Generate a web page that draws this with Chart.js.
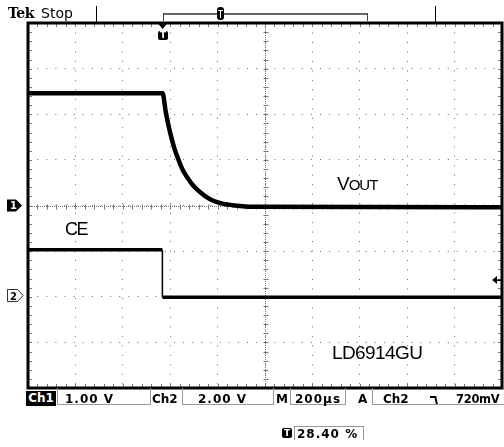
<!DOCTYPE html>
<html>
<head>
<meta charset="utf-8">
<title>LD6914GU turn-off</title>
<script src="https://cdn.jsdelivr.net/npm/chart.js@4.4.1/dist/chart.umd.min.js"></script>
<style>
  body { margin: 0; background: #fff; }
  #scope { position: relative; width: 504px; height: 447px; overflow: hidden; font-family: "DejaVu Sans", sans-serif; color: #000; }
  #scope canvas { position: absolute; left: 0; top: 0; }
  .lbl { position: absolute; line-height: 1; white-space: nowrap; }
  .note { font-family: "Liberation Sans", Arial, sans-serif; }
  .stat { font-size: 12px; font-weight: bold; letter-spacing: 1px; top: 393px; }
  .box { position: absolute; top: 388px; height: 17px; border: 1px solid #999; border-top: none; box-sizing: border-box; }
  .vline { position: absolute; width: 1px; background: #000; }
</style>
</head>
<body>
<div id="scope">
  <canvas id="scopeChart"></canvas>

  <!-- header -->
  <div class="lbl" style="left:8px;top:6px;font-size:14px;font-weight:bold;letter-spacing:-0.5px;font-family:'DejaVu Serif',serif">Tek</div>
  <div class="lbl" style="left:41px;top:6px;font-size:14px">Stop</div>
  <div class="vline" style="left:96px;top:6px;height:17px"></div>
  <div class="vline" style="left:435px;top:6px;height:17px"></div>
  <div style="position:absolute;left:163px;top:13px;width:204px;height:2px;background:#666"></div>
  <div class="vline" style="left:163px;top:13px;height:8px;background:#444"></div>
  <div class="vline" style="left:367px;top:13px;height:8px;background:#444"></div>
  <div style="position:absolute;left:217px;top:7px;width:7px;height:13px;border-radius:3px;background:#000"></div>
  <div style="position:absolute;left:220px;top:10px;width:1px;height:8px;background:#fff"></div>
  <div style="position:absolute;left:218px;top:10px;width:5px;height:1px;background:#fff"></div>

  <!-- trigger position icon under the frame -->
  <div class="lbl" style="left:158px;top:31px;width:10px;height:9px;background:#000;color:#fff;font-size:9px;font-weight:bold;text-align:center;line-height:9px;border-radius:2px">T</div>

  <!-- channel ground markers -->
  <div class="lbl" style="left:10px;top:201px;font-size:10px;font-weight:bold;color:#fff">1</div>
  <div class="lbl" style="left:10px;top:292px;font-size:10px;font-weight:bold">2</div>

  <!-- trace notes -->
  <div class="lbl note" style="left:337px;top:173.5px;font-size:19px;letter-spacing:-1px">V<span style="font-size:15px">OUT</span></div>
  <div class="lbl note" style="left:65px;top:219.5px;font-size:18px;letter-spacing:-1.5px">CE</div>
  <div class="lbl note" style="left:332px;top:342.5px;font-size:19px;letter-spacing:-0.6px">LD6914GU</div>

  <!-- status line -->
  <div class="lbl stat" style="left:26px;top:391px;width:30px;height:15px;background:#000;color:#fff;text-align:center;line-height:15px;letter-spacing:0">Ch1</div>
  <div class="box" style="left:57px;width:94px"></div>
  <div class="lbl stat" style="left:65px">1.00 V</div>
  <div class="lbl stat" style="left:152px;letter-spacing:0">Ch2</div>
  <div class="box" style="left:182px;width:92px"></div>
  <div class="lbl stat" style="left:198px">2.00 V</div>
  <div class="lbl stat" style="left:276px;letter-spacing:0">M</div>
  <div class="box" style="left:290px;width:56px"></div>
  <div class="lbl stat" style="left:295px">200µs</div>
  <div class="lbl stat" style="left:358px">A</div>
  <div class="box" style="left:372px;width:134px"></div>
  <div class="lbl stat" style="left:383px;letter-spacing:0">Ch2</div>
  <!-- falling slope symbol -->
  <div style="position:absolute;left:430px;top:396px;width:6px;height:2px;background:#000"></div>
  <div style="position:absolute;left:435px;top:396px;width:2px;height:8px;background:#000;transform:skewX(12deg)"></div>
  <div class="lbl stat" style="left:456px;letter-spacing:-0.3px;font-size:11.5px;top:393.5px">720mV</div>

  <div class="lbl" style="left:282px;top:428px;width:10px;height:10px;background:#000;color:#fff;font-size:9px;font-weight:bold;text-align:center;line-height:10px;border-radius:2px">T</div>
  <div style="position:absolute;left:294px;top:426px;width:70px;height:14px;border:1px solid #999;border-bottom:none;box-sizing:border-box"></div>
  <div class="lbl stat" style="left:297px;top:428px">28.40 %</div>
</div>

<script>
// time in microseconds from the trigger point, 200 us per division
const timeTicks = [-568, -368, -168, 32, 232, 432, 632, 832, 1032, 1232, 1432];
// channel 1 divisions, 1 V per division
const voltTicks = [-4, -3, -2, -1, 0, 1, 2, 3, 4];

// CH1: VOUT discharging after enable drops
const voutTime  = [-568, 0, 13, 25, 38, 51, 68, 84, 106, 127, 152, 181, 211, 253, 304, 380, 1432];
const voutVolts = [2.46, 2.46, 2.06, 1.75, 1.47, 1.23, 0.99, 0.79, 0.60, 0.45, 0.32, 0.20, 0.11, 0.04, 0.00, -0.03, -0.04];

// CH2: CE enable pin, 2 V per division
const ceTime  = [-568, -1, -1, 1432];
const ceVolts = [2.06, 2.06, -0.02, -0.02];

const triggerLevel = 0.72; // volts on CH2

const toPoints = (xs, ys) => xs.map((x, i) => ({ x: x, y: ys[i] }));

const crisp = v => Math.round(v) + 0.5;

const graticule = {
    id: 'graticule',
    beforeDatasetsDraw(chart) {
        const { ctx, chartArea: a, scales: { x, y } } = chart;
        const cx = crisp(x.getPixelForValue(timeTicks[5]));
        const cy = crisp(y.getPixelForValue(0));
        const dx = (x.getPixelForValue(timeTicks[1]) - x.getPixelForValue(timeTicks[0])) / 5;
        const dy = (y.getPixelForValue(0) - y.getPixelForValue(1)) / 5;
        const seg = (x1, y1, x2, y2) => { ctx.beginPath(); ctx.moveTo(x1, y1); ctx.lineTo(x2, y2); ctx.stroke(); };

        ctx.save();
        ctx.strokeStyle = '#777';
        ctx.lineWidth = 1;
        ctx.setLineDash([1, 1]);
        seg(cx, a.top, cx, a.bottom);
        seg(a.left, cy, a.right, cy);
        ctx.setLineDash([]);
        for (let px = a.left; px <= a.right + 0.5; px += dx) {
            const p = crisp(px);
            seg(p, cy - 2, p, cy + 3);
            seg(p, a.top, p, a.top + 4);
            seg(p, a.bottom - 4, p, a.bottom);
        }
        for (let py = a.top; py <= a.bottom + 0.5; py += dy) {
            const p = crisp(py);
            seg(cx - 2, p, cx + 3, p);
            seg(a.left, p, a.left + 4, p);
            seg(a.right - 4, p, a.right, p);
        }
        ctx.restore();
    },
    afterDraw(chart) {
        const { ctx, chartArea: a, scales: { x, y, y2 } } = chart;
        ctx.save();
        ctx.fillStyle = '#000';
        ctx.strokeStyle = '#000';

        // trigger level arrow at the right edge
        const ty = Math.round(y2.getPixelForValue(triggerLevel));
        ctx.beginPath();
        ctx.moveTo(a.right - 10, ty);
        ctx.lineTo(a.right - 5, ty - 4);
        ctx.lineTo(a.right - 5, ty + 4);
        ctx.closePath();
        ctx.fill();
        ctx.fillRect(a.right - 6, ty - 0.5, 6, 1.5);

        // frame
        ctx.lineWidth = 3;
        ctx.strokeRect(a.left, a.top, a.right - a.left, a.bottom - a.top);

        // trigger position
        const tx = x.getPixelForValue(0);
        ctx.beginPath();
        ctx.moveTo(tx - 5, a.top);
        ctx.lineTo(tx + 5, a.top);
        ctx.lineTo(tx, a.top + 6);
        ctx.closePath();
        ctx.fill();

        // CH1 ground marker
        const g1 = y.getPixelForValue(0);
        ctx.beginPath();
        ctx.moveTo(7, g1 - 6);
        ctx.lineTo(16, g1 - 6);
        ctx.lineTo(22, g1);
        ctx.lineTo(16, g1 + 6);
        ctx.lineTo(7, g1 + 6);
        ctx.closePath();
        ctx.fill();

        // CH2 ground marker
        const g2 = Math.round(y2.getPixelForValue(0)) - 1.5;
        ctx.lineWidth = 1;
        ctx.strokeStyle = '#333';
        ctx.beginPath();
        ctx.moveTo(7.5, g2 - 6);
        ctx.lineTo(17.5, g2 - 6);
        ctx.lineTo(23, g2);
        ctx.lineTo(17.5, g2 + 6);
        ctx.lineTo(7.5, g2 + 6);
        ctx.closePath();
        ctx.stroke();
        ctx.restore();
    }
};

document.addEventListener('DOMContentLoaded', () => {
    const canvas = document.getElementById('scopeChart');
    canvas.width = 504;
    canvas.height = 447;

    new Chart(canvas.getContext('2d'), {
        type: 'scatter',
        data: {
            datasets: [
                {
                    label: 'VOUT',
                    data: toPoints(voutTime, voutVolts),
                    yAxisID: 'y',
                    showLine: true,
                    borderColor: '#000',
                    borderWidth: 4.5,
                    pointRadius: 0,
                    cubicInterpolationMode: 'monotone'
                },
                {
                    label: 'CE',
                    data: toPoints(ceTime, ceVolts),
                    yAxisID: 'y2',
                    showLine: true,
                    borderColor: '#000',
                    borderWidth: 3.5,
                    pointRadius: 0,
                    segment: {
                        borderWidth: c => c.p0.parsed.x === c.p1.parsed.x ? 1.5 : 3.5
                    }
                }
            ]
        },
        options: {
            responsive: false,
            animation: false,
            events: [],
            layout: { padding: { left: 28, top: 23, right: 2, bottom: 59 } },
            plugins: { legend: { display: false }, tooltip: { enabled: false } },
            scales: {
                x: {
                    type: 'linear',
                    min: timeTicks[0],
                    max: timeTicks[timeTicks.length - 1],
                    afterBuildTicks: axis => { axis.ticks = timeTicks.map(v => ({ value: v })); },
                    ticks: { display: false },
                    grid: { color: '#666', lineWidth: 1, drawTicks: false },
                    border: { display: false, dash: [1, 8.48] }
                },
                y: {
                    min: -4,
                    max: 4,
                    afterBuildTicks: axis => { axis.ticks = voltTicks.map(v => ({ value: v })); },
                    ticks: { display: false },
                    grid: { color: '#666', lineWidth: 1, drawTicks: false },
                    border: { display: false, dash: [1, 8.125] }
                },
                y2: {
                    display: false,
                    min: -4,
                    max: 12
                }
            }
        },
        plugins: [graticule]
    });
});
</script>
</body>
</html>
